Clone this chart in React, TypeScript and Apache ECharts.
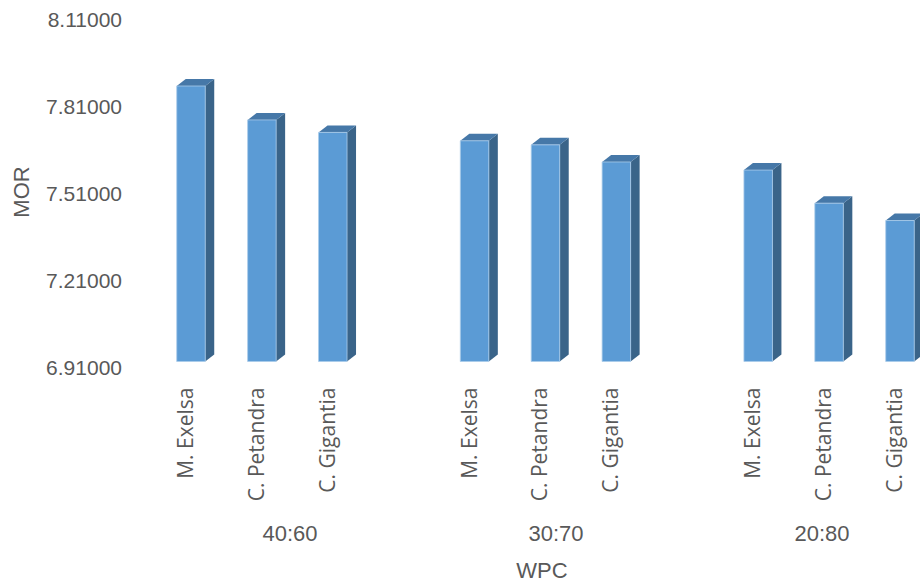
import React, { useEffect, useRef } from "react";
import * as echarts from "echarts";

const groups = ["40:60", "30:70", "20:80"];
const species = ["M. Exelsa", "C. Petandra", "C. Gigantia"];
const mor4060 = [7.86, 7.743, 7.7];
const mor3070 = [7.671, 7.657, 7.598];
const mor2080 = [7.57, 7.456, 7.396];
const yTickLabels = ["6.91000", "7.21000", "7.51000", "7.81000", "8.11000"];
const yMin = 6.91;
const yMax = 8.11;

const FRONT = "#5B9BD5";
const SIDE = "#3A6489";
const TOP = "#4678A8";
const TEXT = "#595959";

export default function App() {
  const ref = useRef<HTMLDivElement>(null);

  useEffect(() => {
    if (!ref.current) return;
    const chart = echarts.init(ref.current, null, { renderer: "svg" });

    const valueSets = [mor4060, mor3070, mor2080];
    const cats: string[] = [];
    const data: [number, number][] = [];
    valueSets.forEach((vals, g) => {
      if (g > 0) cats.push("");
      species.forEach((s, k) => {
        data.push([cats.length, vals[k]]);
        cats.push(s);
      });
    });

    const renderItem = (params: any, api: any) => {
      const xi = api.value(0);
      const v = api.value(1);
      const top = api.coord([xi, v]);
      const base = api.coord([xi, yMin]);
      const slot = api.size([1, 0])[0];
      const w = slot * 0.402;
      const off = slot * 0.085;
      const dx = slot * 0.127;
      const dy = 7;
      const left = top[0] + off - w / 2;
      const right = left + w;
      return {
        type: "group",
        children: [
          {
            type: "polygon",
            shape: {
              points: [
                [right, top[1]],
                [right + dx, top[1] - dy],
                [right + dx, base[1] - dy],
                [right, base[1]],
              ],
            },
            style: { fill: SIDE },
          },
          {
            type: "polygon",
            shape: {
              points: [
                [left, top[1]],
                [left + dx, top[1] - dy],
                [right + dx, top[1] - dy],
                [right, top[1]],
              ],
            },
            style: { fill: TOP },
          },
          {
            type: "rect",
            shape: { x: left, y: top[1], width: w, height: base[1] - top[1] },
            style: { fill: FRONT, stroke: "#A9CBEA", lineWidth: 0.8 },
          },
        ],
      };
    };

    chart.setOption({
      animation: false,
      backgroundColor: "#ffffff",
      grid: [
        { left: 149.5, top: 13.5, width: 779.9, height: 348, outerBoundsMode: "none", containLabel: false },
        { left: 130, top: 19, width: 700, height: 348, outerBoundsMode: "none", containLabel: false },
        { left: 157, top: 400, width: 798, height: 115, outerBoundsMode: "none", containLabel: false },
      ],
      xAxis: [
        {
          type: "category",
          gridIndex: 0,
          data: cats,
          boundaryGap: true,
          axisLine: { show: false },
          axisTick: { show: false },
          splitLine: { show: false },
          axisLabel: {
            interval: 0,
            rotate: 90,
            margin: 26,
            color: TEXT,
            fontFamily: "Open Sans",
            fontSize: 21,
          },
        },
        {
          type: "category",
          gridIndex: 2,
          data: groups,
          axisLine: { show: false },
          axisTick: { show: false },
          splitLine: { show: false },
          axisLabel: {
            interval: 0,
            margin: 7,
            color: TEXT,
            fontFamily: "Liberation Sans",
            fontSize: 22,
          },
        },
        { type: "value", gridIndex: 1, show: false },
      ],
      yAxis: [
        { type: "value", gridIndex: 0, min: yMin, max: yMax, show: false, splitLine: { show: false } },
        {
          type: "category",
          gridIndex: 1,
          data: yTickLabels,
          boundaryGap: false,
          axisLine: { show: false },
          axisTick: { show: false },
          splitLine: { show: false },
          axisLabel: {
            interval: 0,
            margin: 8,
            color: TEXT,
            fontFamily: "Liberation Sans",
            fontSize: 21,
          },
        },
        { type: "value", gridIndex: 2, show: false },
      ],
      graphic: [
        {
          type: "text",
          x: 21.5,
          y: 192,
          rotation: Math.PI / 2,
          style: {
            text: "MOR",
            fill: TEXT,
            font: '22px "Liberation Sans"',
            textAlign: "center",
            textVerticalAlign: "middle",
          },
        },
        {
          type: "text",
          x: 542,
          y: 570,
          style: {
            text: "WPC",
            fill: TEXT,
            font: '22px "Liberation Sans"',
            textAlign: "center",
            textVerticalAlign: "middle",
          },
        },
      ],
      series: [
        {
          type: "custom",
          xAxisIndex: 0,
          yAxisIndex: 0,
          renderItem,
          data,
          encode: { x: 0, y: 1 },
        },
      ],
    });

    return () => chart.dispose();
  }, []);

  return (
    <div
      ref={ref}
      style={{ position: "absolute", left: 0, top: 0, width: 920, height: 583 }}
    />
  );
}
